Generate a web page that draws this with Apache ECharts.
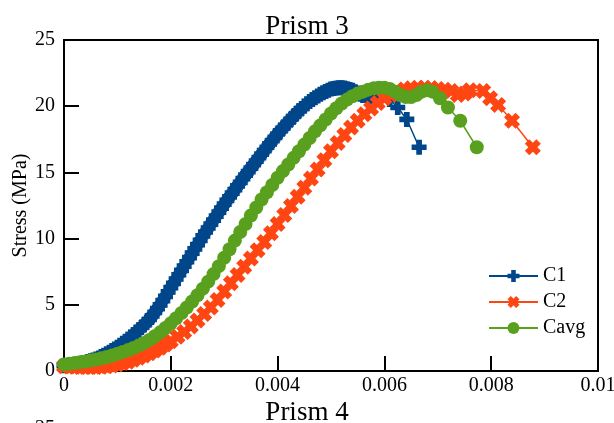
<!DOCTYPE html>
<html>
<head>
<meta charset="utf-8">
<title>Prism 3</title>
<script src="https://cdn.jsdelivr.net/npm/echarts@6/dist/echarts.min.js"></script>
<style>
  html, body { margin: 0; padding: 0; background: #fff; }
  #chart { width: 614px; height: 423px; }
</style>
</head>
<body>
<div id="chart"></div>
<script>
// Strain values are stored in units of 10^-3 and converted when the series are built.
const c1Strain = [
  0.00, 0.05, 0.10, 0.15, 0.20, 0.25, 0.30, 0.35, 0.40, 0.45,
  0.50, 0.55, 0.60, 0.65, 0.70, 0.75, 0.80, 0.85, 0.90, 0.95,
  1.00, 1.05, 1.10, 1.15, 1.20, 1.25, 1.30, 1.35, 1.40, 1.45,
  1.50, 1.55, 1.60, 1.65, 1.70, 1.75, 1.80, 1.85, 1.90, 1.95,
  2.00, 2.05, 2.10, 2.15, 2.20, 2.25, 2.30, 2.35, 2.40, 2.45,
  2.50, 2.55, 2.60, 2.65, 2.70, 2.75, 2.80, 2.85, 2.90, 2.95,
  3.00, 3.05, 3.10, 3.15, 3.20, 3.25, 3.30, 3.35, 3.40, 3.45,
  3.50, 3.55, 3.60, 3.65, 3.70, 3.75, 3.80, 3.85, 3.90, 3.95,
  4.00, 4.05, 4.10, 4.15, 4.20, 4.25, 4.30, 4.35, 4.40, 4.45,
  4.50, 4.55, 4.60, 4.65, 4.70, 4.75, 4.80, 4.85, 4.90, 4.95,
  5.00, 5.05, 5.10, 5.15, 5.20, 5.25, 5.30, 5.35, 5.40, 5.45,
  5.50, 5.55, 5.60, 5.70, 5.80, 5.95, 6.10, 6.25, 6.42, 6.65
];
const c1Stress = [
  0.40, 0.42, 0.45, 0.47, 0.50, 0.53, 0.57, 0.61, 0.65, 0.71,
  0.77, 0.83, 0.90, 0.99, 1.09, 1.19, 1.30, 1.42, 1.54, 1.67,
  1.80, 1.94, 2.09, 2.24, 2.40, 2.57, 2.74, 2.92, 3.10, 3.29,
  3.49, 3.69, 3.90, 4.16, 4.43, 4.71, 5.00, 5.32, 5.64, 5.97,
  6.30, 6.62, 6.95, 7.27, 7.60, 7.92, 8.25, 8.57, 8.90, 9.22,
  9.55, 9.87, 10.20, 10.50, 10.80, 11.10, 11.40, 11.70, 12.00, 12.30,
  12.60, 12.88, 13.15, 13.43, 13.70, 13.98, 14.25, 14.53, 14.80, 15.06,
  15.32, 15.59, 15.85, 16.11, 16.38, 16.64, 16.90, 17.15, 17.40, 17.65,
  17.90, 18.13, 18.35, 18.58, 18.80, 19.02, 19.23, 19.44, 19.65, 19.83,
  20.01, 20.18, 20.35, 20.50, 20.64, 20.77, 20.90, 21.01, 21.11, 21.21,
  21.30, 21.34, 21.38, 21.40, 21.40, 21.37, 21.32, 21.26, 21.20, 21.10,
  21.00, 20.90, 20.80, 20.65, 20.60, 20.80, 20.50, 19.90, 19.00, 16.90
];

const c2Strain = [
  0.0, 0.1, 0.2, 0.3, 0.4, 0.5, 0.6, 0.7, 0.8, 0.9,
  1.0, 1.1, 1.2, 1.3, 1.4, 1.5, 1.6, 1.7, 1.8, 1.9, 2.0,
  2.125, 2.25, 2.375, 2.5, 2.625, 2.75, 2.875, 3.0,
  3.125, 3.25, 3.375, 3.5, 3.625, 3.75, 3.875, 4.0,
  4.125, 4.25, 4.375, 4.5, 4.625, 4.75, 4.875, 5.0,
  5.125, 5.25, 5.375, 5.5, 5.625, 5.75, 5.875, 6.0,
  6.125, 6.25, 6.375, 6.5, 6.625, 6.75, 6.875, 7.0,
  7.125, 7.25, 7.375, 7.5,
  7.60, 7.85, 7.98, 8.13, 8.39, 8.78
];
const c2Stress = [
  0.35, 0.34, 0.32, 0.31, 0.30, 0.30, 0.31, 0.33, 0.35, 0.42,
  0.50, 0.60, 0.70, 0.85, 1.00, 1.17, 1.35, 1.55, 1.75, 2.00, 2.25,
  2.59, 2.95, 3.37, 3.82, 4.30, 4.80, 5.37, 6.00,
  6.62, 7.25, 7.87, 8.50, 9.12, 9.75, 10.40, 11.10,
  11.79, 12.47, 13.16, 13.85, 14.54, 15.22, 15.91, 16.60,
  17.22, 17.82, 18.39, 18.90, 19.39, 19.83, 20.25, 20.60,
  20.86, 21.08, 21.27, 21.35, 21.40, 21.40, 21.37, 21.30,
  21.25, 21.15, 20.85, 20.95,
  21.20, 21.15, 20.60, 20.10, 18.90, 16.90
];

const cavgStrain = [
  0.0, 0.1, 0.2, 0.3, 0.4, 0.5, 0.6, 0.7, 0.8, 0.9,
  1.0, 1.1, 1.2, 1.3, 1.4, 1.5, 1.6, 1.7, 1.8, 1.9,
  2.0, 2.1, 2.2, 2.3, 2.4, 2.5, 2.6, 2.7, 2.8, 2.9,
  3.0, 3.1, 3.2, 3.3, 3.4, 3.5, 3.6, 3.7, 3.8, 3.9,
  4.0, 4.1, 4.2, 4.3, 4.4, 4.5, 4.6, 4.7, 4.8, 4.9,
  5.0, 5.1, 5.2, 5.3, 5.4, 5.5, 5.6, 5.7, 5.8, 5.9,
  6.0, 6.1, 6.2, 6.3, 6.4, 6.5, 6.6, 6.7, 6.8, 6.9,
  7.04, 7.19, 7.42, 7.73
];
const cavgStress = [
  0.50, 0.55, 0.60, 0.66, 0.72, 0.79, 0.87, 0.96, 1.06, 1.17,
  1.30, 1.43, 1.58, 1.74, 1.92, 2.12, 2.35, 2.62, 2.92, 3.25,
  3.60, 3.98, 4.38, 4.80, 5.25, 5.72, 6.22, 6.75, 7.32, 7.92,
  8.55, 9.20, 9.85, 10.50, 11.10, 11.75, 12.35, 12.95, 13.50, 14.05,
  14.60, 15.10, 15.60, 16.10, 16.60, 17.10, 17.60, 18.10, 18.55, 19.00,
  19.45, 19.85, 20.20, 20.50, 20.75, 20.95, 21.10, 21.25, 21.35, 21.40,
  21.40, 21.30, 21.10, 20.85, 20.70, 20.70, 20.85, 21.10, 21.20, 21.10,
  20.60, 19.90, 18.90, 16.90
];

const seriesNames = ['C1', 'C2', 'Cavg'];
const seriesColors = ['#00468b', '#ff4612', '#58a01e'];
const xTickValues = [0, 0.002, 0.004, 0.006, 0.008, 0.01];
const yTickValues = [0, 5, 10, 15, 20, 25];

const FONT = "'Liberation Serif', 'Times New Roman', serif";

// Marker shapes: thick plus, thick cross and filled circle.
const PLUS = 'path://M3.1,0H6.9V3.1H10V6.9H6.9V10H3.1V6.9H0V3.1H3.1Z';
const CROSS = 'path://M0,2.8L2.8,0L5,2.2L7.2,0L10,2.8L7.8,5L10,7.2L7.2,10L5,7.8L2.8,10L0,7.2L2.2,5Z';

function pairs(strain, stress) {
  return strain.map((e, i) => [e / 1000, stress[i]]);
}

function curve(idx, data, symbol, size) {
  return {
    name: seriesNames[idx],
    type: 'line',
    data: data,
    symbol: symbol,
    symbolSize: size,
    showSymbol: true,
    showAllSymbol: true,
    clip: true,
    lineStyle: { color: seriesColors[idx], width: 1.5 },
    itemStyle: { color: seriesColors[idx], opacity: 1 },
    emphasis: { disabled: true },
    z: 2 + idx
  };
}

const chart = echarts.init(document.getElementById('chart'), null, { renderer: 'canvas' });

chart.setOption({
  animation: false,
  backgroundColor: '#fff',
  textStyle: { fontFamily: FONT, color: '#000' },
  title: [
    { text: 'Prism 3', left: 'center', top: 8, textStyle: { fontFamily: FONT, fontSize: 27, fontWeight: 'normal', color: '#000' } },
    { text: 'Prism 4', left: 'center', top: 394, textStyle: { fontFamily: FONT, fontSize: 27, fontWeight: 'normal', color: '#000' } }
  ],
  grid: {
    left: 64, right: 16, top: 40, bottom: 52,
    outerBoundsMode: 'none',
    containLabel: false,
    show: true, borderColor: '#000', borderWidth: 2, backgroundColor: 'transparent'
  },
  legend: {
    data: seriesNames,
    orient: 'vertical',
    left: 483, top: 261,
    itemWidth: 49, itemHeight: 15, itemGap: 6,
    textStyle: { fontFamily: FONT, fontSize: 20, color: '#000' },
    selectedMode: false
  },
  xAxis: {
    type: 'value',
    min: xTickValues[0], max: xTickValues[xTickValues.length - 1], interval: 0.002,
    axisLine: { show: false },
    axisTick: { inside: true, length: 15, lineStyle: { color: '#000', width: 2 } },
    axisLabel: {
      margin: 5, fontFamily: FONT, fontSize: 20, color: '#000',
      formatter: v => String(+v.toFixed(3))
    },
    splitLine: { show: false }
  },
  yAxis: {
    type: 'value',
    name: 'Stress (MPa)',
    nameLocation: 'middle', nameGap: 33, nameRotate: 90,
    nameMoveOverlap: false,
    nameTextStyle: { fontFamily: FONT, fontSize: 20, color: '#000' },
    min: yTickValues[0], max: yTickValues[yTickValues.length - 1], interval: 5,
    axisLine: { show: false },
    axisTick: { inside: true, length: 15, lineStyle: { color: '#000', width: 2 } },
    axisLabel: { margin: 9, fontFamily: FONT, fontSize: 20, color: '#000' },
    splitLine: { show: false }
  },
  graphic: [
    // top of the next panel's first tick label, cut by the page edge
    { type: 'text', left: 35, top: 419, style: { text: '25', font: "20px 'Liberation Serif', serif", fill: '#000' }, silent: true }
  ],
  series: [
    curve(0, pairs(c1Strain, c1Stress), PLUS, 15),
    curve(1, pairs(c2Strain, c2Stress), CROSS, 16),
    curve(2, pairs(cavgStrain, cavgStress), 'circle', 14)
  ]
});
</script>
</body>
</html>
